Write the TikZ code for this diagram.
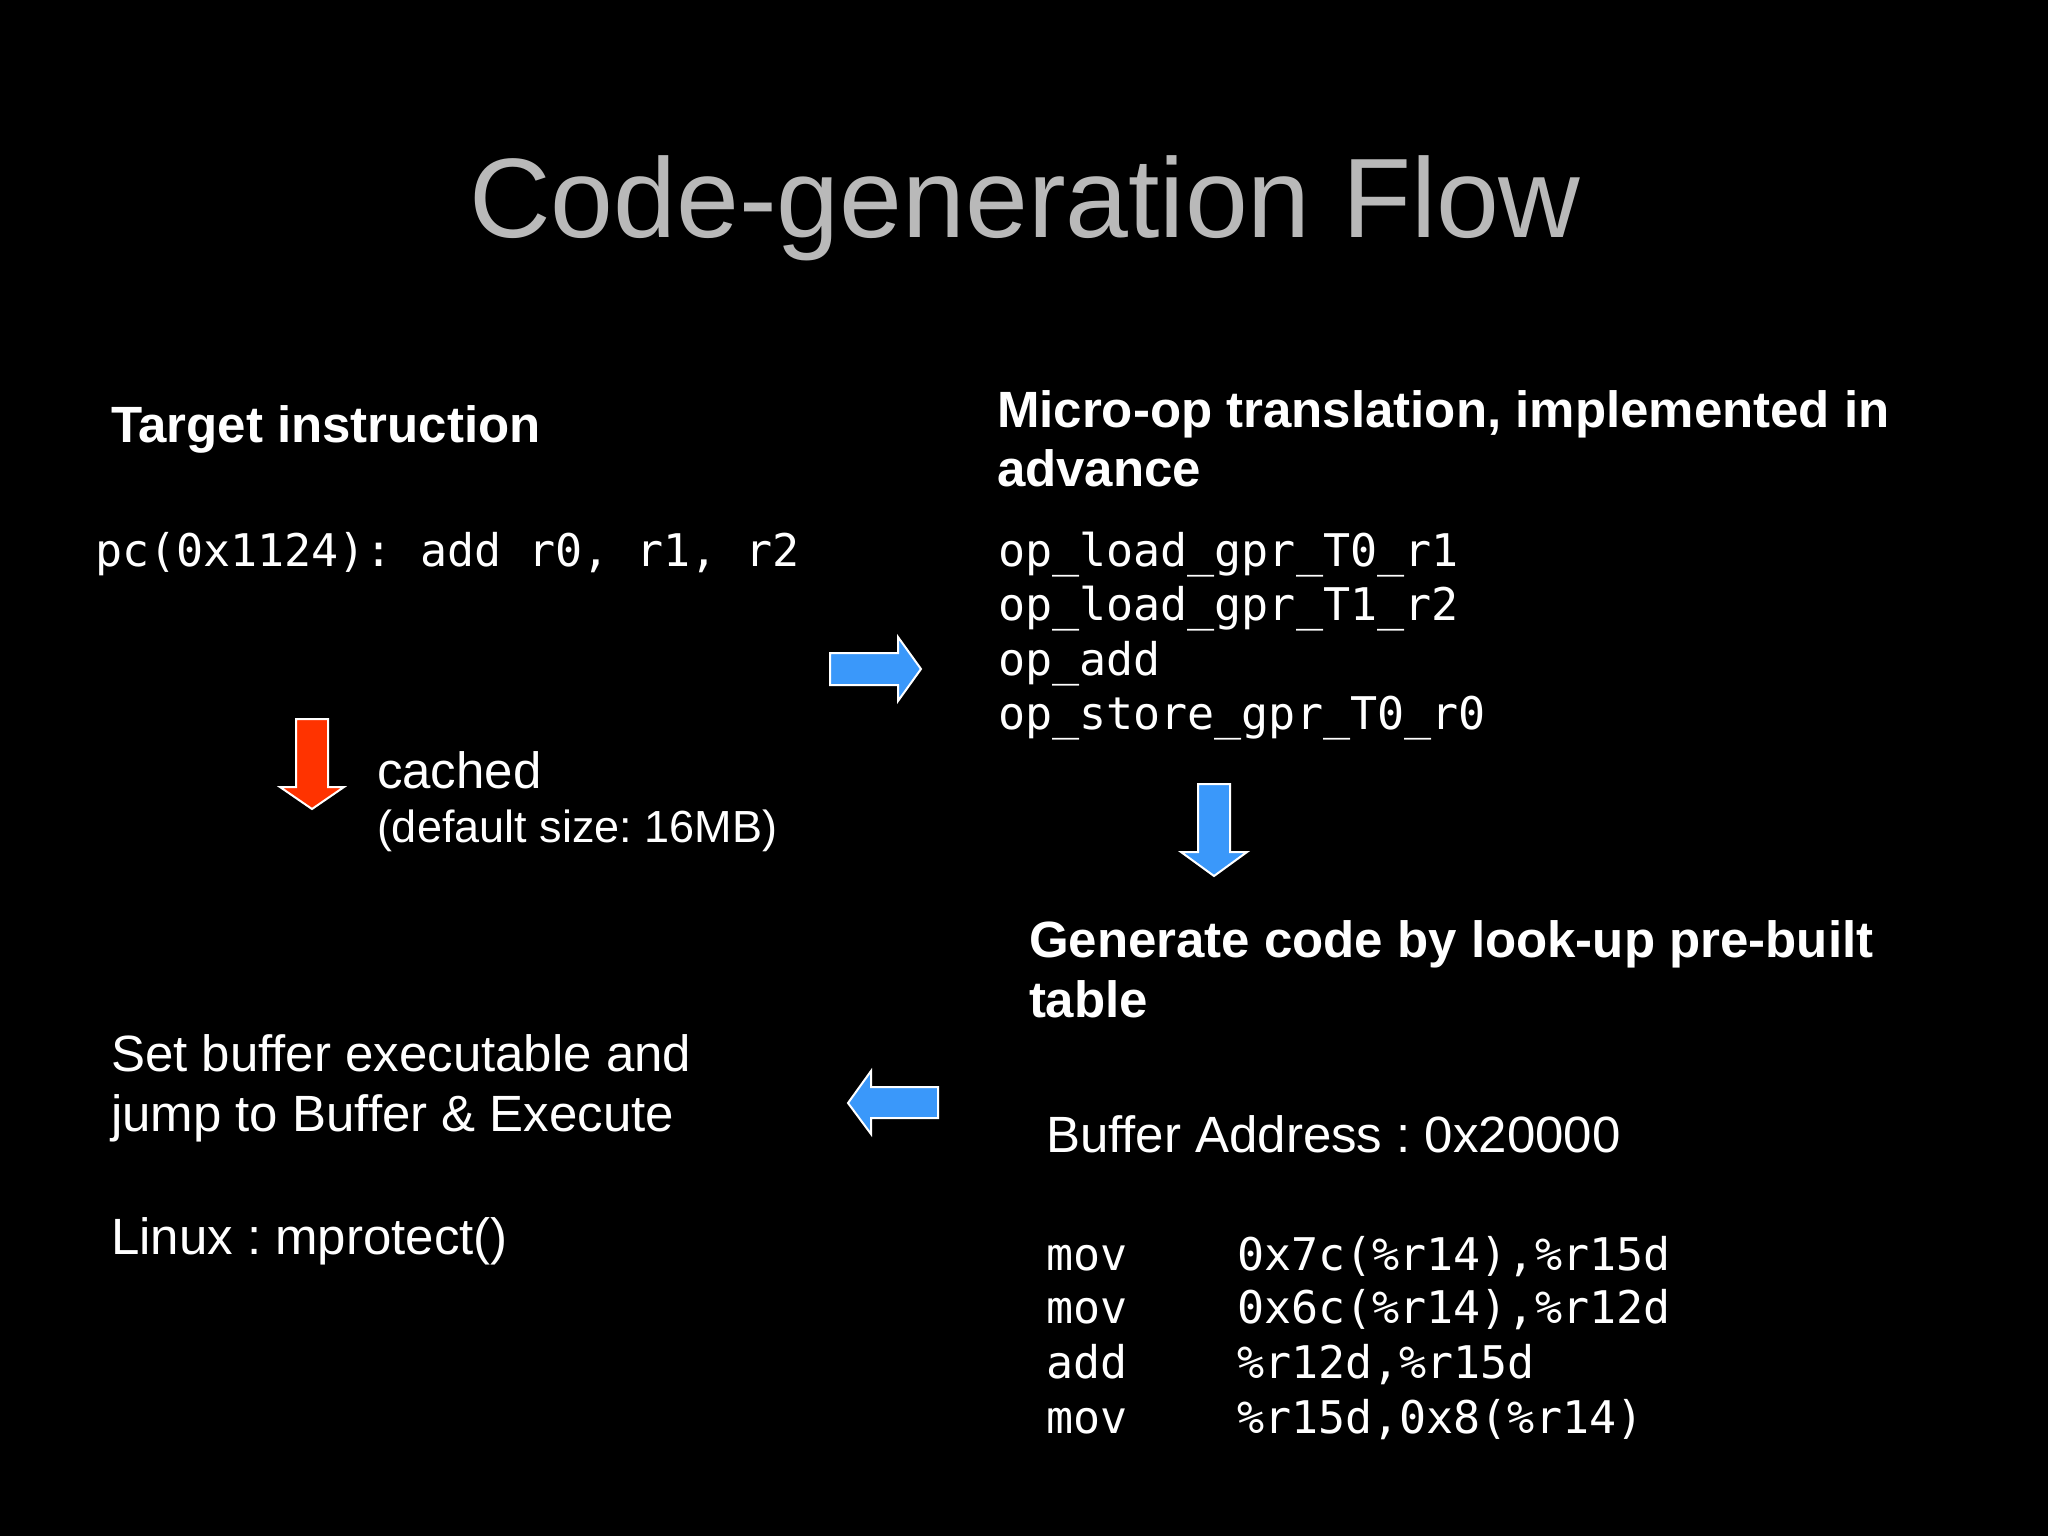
\documentclass[tikz,border=0pt]{standalone}
\usepackage{fontspec}
\setmainfont{Liberation Sans}
\setmonofont{DejaVu Sans Mono}
\frenchspacing
\definecolor{titlegray}{RGB}{185,185,185}
\definecolor{arrowblue}{RGB}{58,152,250}
\definecolor{arrowred}{RGB}{255,51,0}
\tikzset{
  txt/.style={anchor=base west, inner sep=0pt, outer sep=0pt, text=white},
  head/.style={txt, font=\fontsize{51}{60}\selectfont\bfseries},
  body/.style={txt, font=\fontsize{51}{60}\selectfont},
  small/.style={txt, font=\fontsize{45}{54}\selectfont},
  code/.style={txt, font=\fontsize{45}{54}\ttfamily},
  blockarrow/.style={draw=white, line width=2pt, line join=miter},
}
\begin{document}
\begin{tikzpicture}[x=1pt,y=-1pt]
\fill[black] (0,0) rectangle (2048,1536);
\useasboundingbox (0,0) rectangle (2048,1536);

% title
\node[anchor=base, inner sep=0pt, text=titlegray, font=\fontsize{113}{130}\selectfont] (title) at (1025,237) {Code-generation Flow};

% left top
\node[head] (target) at (111,442) {Target instruction};
\node[code] (pc) at (95,566) {pc(0x1124): add r0, r1, r2};

% right top
\node[head] (micro1) at (997,427) {Micro-op translation, implemented in};
\node[head] (micro2) at (997,486) {advance};
\node[code] (op1) at (998,566) {op\_load\_gpr\_T0\_r1};
\node[code] (op2) at (998,620) {op\_load\_gpr\_T1\_r2};
\node[code] (op3) at (998,675) {op\_add};
\node[code] (op4) at (998,729) {op\_store\_gpr\_T0\_r0};

% cached
\node[body] (cached) at (377,788) {cached};
\node[small] (defsize) at (377,842) {(default size: 16MB)};

% generate
\node[head] (gen1) at (1029,957) {Generate code by look-up pre-built};
\node[head] (gen2) at (1029,1017) {table};
\node[body] (bufaddr) at (1046,1152) {Buffer Address : 0x20000};
\node[code] (m1) at (1046,1270) {mov};
\node[code] (m2) at (1046,1323) {mov};
\node[code] (m3) at (1046,1378) {add};
\node[code] (m4) at (1046,1433) {mov};
\node[code] (a1) at (1237,1270) {0x7c(\%r14),\%r15d};
\node[code] (a2) at (1237,1323) {0x6c(\%r14),\%r12d};
\node[code] (a3) at (1237,1378) {\%r12d,\%r15d};
\node[code] (a4) at (1237,1433) {\%r15d,0x8(\%r14)};

% set buffer
\node[body] (set1) at (111,1071) {Set buffer executable and};
\node[body] (set2) at (111,1131) {jump to Buffer \& Execute};
\node[body] (linux) at (111,1254) {Linux : mprotect()};

% arrows
% right blue
\filldraw[blockarrow, fill=arrowblue] (830,653) -- (898,653) -- (898,637) -- (921,669) -- (898,701) -- (898,685) -- (830,685) -- cycle;
% down blue
\filldraw[blockarrow, fill=arrowblue] (1198,784) -- (1230,784) -- (1230,852) -- (1247,852) -- (1214,876) -- (1181,852) -- (1198,852) -- cycle;
% red down
\filldraw[blockarrow, fill=arrowred] (296,719) -- (328,719) -- (328,787) -- (344,787) -- (312,809) -- (280,787) -- (296,787) -- cycle;
% left blue
\filldraw[blockarrow, fill=arrowblue] (938,1087) -- (871,1087) -- (871,1071) -- (848,1103) -- (871,1134) -- (871,1118) -- (938,1118) -- cycle;
\end{tikzpicture}
\end{document}
